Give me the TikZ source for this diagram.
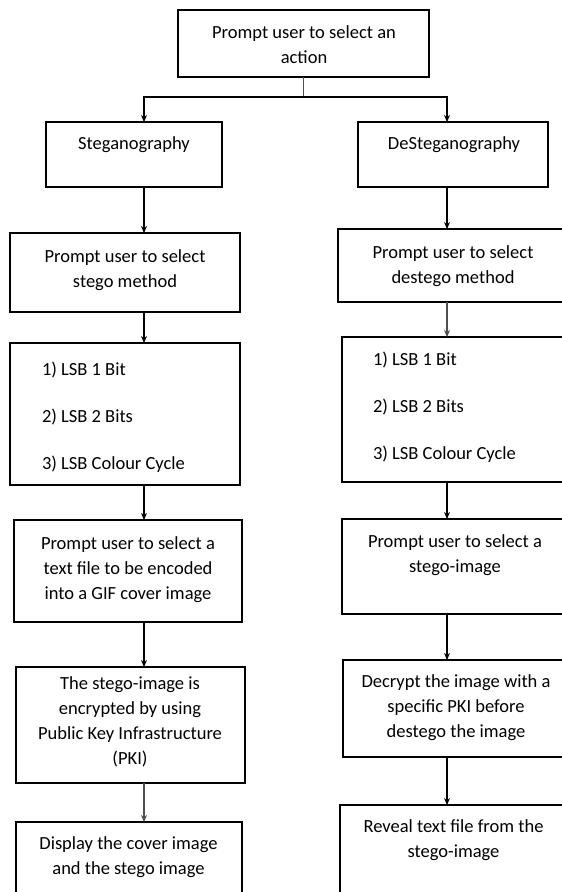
\documentclass[tikz,border=0pt]{standalone}
\usepackage{fontspec}
\setmainfont{Carlito}
\usetikzlibrary{arrows.meta}
\definecolor{lngray}{RGB}{80,80,80}
\tikzset{
  box/.style={draw=black, line width=1.2pt, rectangle, inner sep=0pt, outer sep=0pt},
  txt/.style={inner sep=0pt, outer sep=0pt, font=\fontsize{18.5}{25}\selectfont, align=center, anchor=north},
  lst/.style={inner sep=0pt, outer sep=0pt, font=\fontsize{18.5}{25}\selectfont, align=left, anchor=north west},
  arr/.style={draw=black, line width=1.2pt, -{Stealth[length=7pt,width=6pt]}},
  garr/.style={arr, draw=lngray, line width=1.6pt},
  ln/.style={draw=lngray, line width=1.8pt}
}
\begin{document}
\begin{tikzpicture}[x=1pt, y=-1pt]
\useasboundingbox (0,0) rectangle (562,892);
\clip (0,0) rectangle (562,892);
\fill[white] (0,0) rectangle (562,892);

% boxes
\node[box, minimum width=251pt, minimum height=67pt]  (top)      at (303.5,43.5) {};
\node[box, minimum width=176pt, minimum height=65pt]  (steg)     at (134,154.5) {};
\node[box, minimum width=190pt, minimum height=65pt]  (desteg)   at (453,154.5) {};
\node[box, minimum width=230pt, minimum height=79pt]  (stegom)   at (125,272.5) {};
\node[box, minimum width=262pt, minimum height=73pt]  (destegom) at (469,265.5) {};
\node[box, minimum width=230pt, minimum height=142pt] (lsbl)     at (125,414) {};
\node[box, minimum width=258pt, minimum height=145pt] (lsbr)     at (471,409.5) {};
\node[box, minimum width=228pt, minimum height=102pt] (textfile) at (128,571) {};
\node[box, minimum width=258pt, minimum height=95pt]  (selimg)   at (471,566.5) {};
\node[box, minimum width=229pt, minimum height=116pt] (encr)     at (130.5,725) {};
\node[box, minimum width=257pt, minimum height=97pt]  (decr)     at (471.5,708.5) {};
\node[box, minimum width=226pt, minimum height=88pt]  (disp)     at (129,866) {};
\node[box, minimum width=260pt, minimum height=105pt] (reveal)   at (470,857.5) {};

% texts
\node[txt] (top-t)      at (304,21)    {\strut Prompt user to select an\\action};
\node[txt] (steg-t)     at (134,132)   {\strut Steganography};
\node[txt] (desteg-t)   at (454,132)   {\strut DeSteganography};
\node[txt] (stegom-t)   at (125,245)   {\strut Prompt user to select\\stego method};
\node[txt] (destegom-t) at (453,241)   {\strut Prompt user to select\\destego method};
\node[lst] (lsbl-t)     at (42,358)    {\strut 1) LSB 1 Bit\\[22pt]2) LSB 2 Bits\\[22pt]3) LSB Colour Cycle};
\node[lst] (lsbr-t)     at (373,348)   {\strut 1) LSB 1 Bit\\[22pt]2) LSB 2 Bits\\[22pt]3) LSB Colour Cycle};
\node[txt] (textfile-t) at (128,532)   {\strut Prompt user to select a\\text file to be encoded\\into a GIF cover image};
\node[txt] (selimg-t)   at (455,530)   {\strut Prompt user to select a\\stego-image};
\node[txt] (encr-t)     at (130,672)   {\strut The stego-image is\\encrypted by using\\Public Key Infrastructure\\(PKI)};
\node[txt] (decr-t)     at (456,670)   {\strut Decrypt the image with a\\specific PKI before\\destego the image};
\node[txt] (disp-t)     at (128.5,832) {\strut Display the cover image\\and the stego image};
\node[txt] (reveal-t)   at (453.5,815) {\strut Reveal text file from the\\stego-image};

% connector columns
\coordinate (xl) at (144,0);
\coordinate (xr) at (447,0);
\coordinate (fork) at (303.5,97);

\draw[ln] (top.south) -- (fork);
\draw[arr] (fork) -| (steg.north -| xl);
\draw[arr] (fork) -| (desteg.north -| xr);

\draw[arr] (steg.south -| xl) -- (stegom.north -| xl);
\draw[arr] (stegom.south -| xl) -- (lsbl.north -| xl);
\draw[arr] (lsbl.south -| xl) -- (textfile.north -| xl);
\draw[arr] (textfile.south -| xl) -- (encr.north -| xl);
\draw[garr] (encr.south -| xl) -- (disp.north -| xl);

\draw[arr] (desteg.south -| xr) -- (destegom.north -| xr);
\draw[garr] (destegom.south -| xr) -- (lsbr.north -| xr);
\draw[arr] (lsbr.south -| xr) -- (selimg.north -| xr);
\draw[arr] (selimg.south -| xr) -- (decr.north -| xr);
\draw[arr] (decr.south -| xr) -- (reveal.north -| xr);
\end{tikzpicture}
\end{document}
